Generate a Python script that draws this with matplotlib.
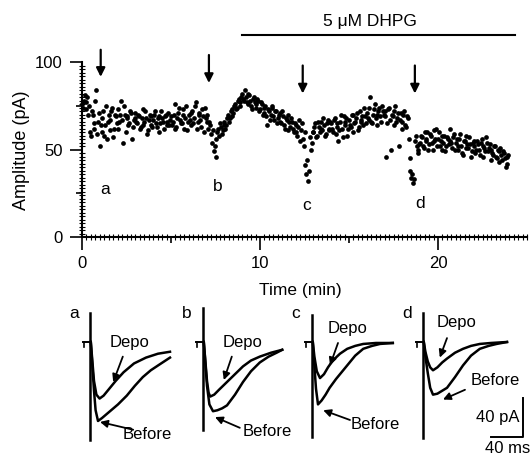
import numpy as np
import matplotlib
matplotlib.use("Agg")
import matplotlib.pyplot as plt

plt.rcParams['font.family'] = ['Liberation Sans', 'DejaVu Sans']

# ---------------- data ----------------
sample_interval_min = 0.1
amplitude_pA = [
    76, 78, 73, 80, 75, 58, 70, 62, 84, 66,
    52, 60, 72, 64, 56, 70, 67, 74, 62, 69,
    73, 66, 78, 54, 70, 68, 64, 72, 56, 67,
    71, 65, 69, 63, 73, 66, 68, 61, 70, 64,
    67, 72, 63, 69, 65, 68, 62, 70, 66, 64,
    69, 66, 76, 63, 71, 67, 65, 73, 68, 61,
    70, 64, 72, 68, 77, 66, 71, 63, 69, 74,
    66, 62, 64, 54, 49, 46, 60, 58, 63, 61,
    66, 64, 70, 68, 73, 71, 76, 74, 79, 77,
    82, 78, 80, 76, 81, 75, 79, 77, 74, 78,
    73, 76, 71, 75, 64, 72, 70, 74, 67, 72,
    68, 71, 65, 69, 62, 67, 70, 63, 66, 60,
    64, 58, 67, 61, 56, 41, 36, 32, 57, 54,
    60, 65, 58, 63, 66, 61, 64, 59, 67, 62,
    65, 60, 68, 63, 55, 66, 62, 69, 64, 58,
    67, 63, 70, 65, 68, 61, 72, 66, 64, 69,
    71, 67, 80, 65, 73, 68, 70, 74, 66, 72,
    69, 46, 73, 67, 70, 64, 75, 68, 52, 71,
    66, 72, 63, 68, 38, 34, 31, 55, 52, 50,
    54, 57, 51, 56, 60, 53, 58, 50, 55, 62,
    56, 52, 58, 54, 49, 57, 53, 55, 51, 59,
    54, 50, 56, 52, 47, 55, 58, 51, 53, 49,
    52, 48, 55, 50, 54, 46, 51, 57, 49, 53,
    50, 47, 52, 45, 49, 51, 44, 48, 40, 46,
]
# interleaved sweeps (offset by half a sample interval)
amplitude_pA_2 = [
    74, 81, 77, 70, 60, 72, 65, 78, 59, 71,
    64, 68, 58, 75, 66, 61, 72, 57, 70, 65,
    62, 70, 67, 75, 60, 69, 65, 71, 63, 68,
    66, 70, 62, 68, 64, 72, 59, 67, 69, 63,
    70, 65, 68, 60, 72, 66, 69, 64, 71, 67,
    64, 70, 62, 68, 74, 65, 70, 62, 75, 66,
    67, 71, 65, 75, 62, 70, 67, 73, 60, 68,
    70, 66, 59, 61, 52, 56, 62, 65, 59, 64,
    62, 68, 66, 72, 69, 75, 73, 78, 75, 80,
    79, 84, 77, 82, 78, 73, 80, 76, 79, 72,
    77, 70, 74, 69, 73, 67, 75, 69, 72, 65,
    70, 66, 72, 64, 68, 61, 66, 68, 62, 65,
    60, 63, 55, 65, 52, 60, 44, 38, 50, 60,
    63, 57, 66, 60, 62, 68, 58, 65, 61, 66,
    62, 67, 59, 65, 61, 70, 57, 66, 68, 62,
    64, 70, 60, 66, 71, 63, 67, 69, 74, 65,
    68, 74, 66, 70, 76, 64, 72, 69, 75, 70,
    72, 65, 74, 50, 69, 72, 66, 71, 67, 62,
    70, 64, 69, 56, 45, 36, 33, 58, 48, 53,
    58, 52, 60, 55, 50, 59, 54, 61, 56, 52,
    60, 55, 50, 58, 52, 56, 62, 54, 57, 50,
    56, 52, 59, 48, 55, 51, 53, 57, 46, 54,
    55, 50, 53, 47, 56, 52, 49, 54, 51, 44,
    48, 52, 46, 50, 43, 47, 49, 45, 42, 47,
]
time_min = np.arange(len(amplitude_pA)) * sample_interval_min
time_min_2 = time_min + sample_interval_min / 2

drug_label = "5 \u03bcM DHPG"
drug_start_min = 9.0
drug_end_min = 24.3

event_labels = ['a', 'b', 'c', 'd']
event_times_min = [1.05, 7.13, 12.4, 18.7]

x_ticks = [0, 5, 10, 15, 20]
x_ticklabels = ['0', '', '10', '', '20']
y_ticks = [0, 25, 50, 75, 100]
y_ticklabels = ['0', '', '50', '', '100']

# inset traces (ms, pA)
depo_t = [
    [1, 3, 5, 8, 12, 17, 24, 32, 42, 55, 70, 85, 100],
    [1, 3, 5, 7, 9, 14, 20, 30, 40, 50, 60, 71, 85, 99],
    [1, 3, 6, 10, 15, 20, 26, 35, 44, 54, 64, 80, 101],
    [1, 3, 6, 9, 12.5, 18, 24, 30, 40, 50, 60, 71, 85, 105],
]
depo_i = [
    [0, -20, -40, -54, -58, -55, -48, -40, -31, -22, -16, -12, -10],
    [0, -20, -40, -52, -56, -54, -49, -41, -33, -25, -19, -15, -11, -8],
    [0, -15, -30, -37, -33, -26, -19, -12, -7, -4, -2, -1, -1],
    [0, -10, -20, -26, -29, -26, -21, -17, -11, -7, -4, -2, -1, 0],
]
before_t = [
    [1, 3, 5, 7, 10, 15, 25, 35, 46, 56, 66, 76, 87, 100],
    [1, 3, 5, 8, 12.5, 18, 24, 30, 40, 50, 60, 71, 82, 92, 99],
    [1, 3, 5, 7.5, 12, 17, 22, 30, 37, 44, 54, 64, 75, 85, 101],
    [1, 3, 6, 9, 12.5, 18, 24, 30, 40, 50, 60, 71, 82, 92, 105],
]
before_i = [
    [0, -25, -50, -70, -81, -78, -71, -64, -55, -45, -36, -29, -23, -16],
    [0, -22, -45, -64, -71, -70, -68, -65, -54, -41, -30, -21, -15, -11, -8],
    [0, -25, -48, -64, -60, -54, -47, -38, -31, -24, -14, -7, -4, -2, -1],
    [0, -15, -32, -47, -54, -53, -50, -47, -36, -24, -14, -7, -4, -2, 0],
]
artifact_top = [30, 35, 28, 30]
artifact_bottom = [-100, -90, -97, -98]

# ---------------- figure ----------------
W, H = 532, 458
fig = plt.figure(figsize=(W / 100, H / 100), dpi=100)

def fx(px):
    return px / W

def fy(py):
    return 1 - py / H

ax = fig.add_axes([fx(82), fy(237), (527 - 82) / W, (237 - 62) / H])
for tt, aa in [(time_min, amplitude_pA), (time_min_2, amplitude_pA_2)]:
    ax.plot(tt, aa, 'o', color='black', markersize=3.4,
            markeredgewidth=0, clip_on=False)
ax.set_xlim(0, 25)
ax.set_ylim(0, 100)
for s in ['top', 'right']:
    ax.spines[s].set_visible(False)
for s in ['left', 'bottom']:
    ax.spines[s].set_linewidth(1.5)

ax.set_xticks(x_ticks)
ax.set_xticklabels(x_ticklabels)
ax.set_yticks(y_ticks)
ax.set_yticklabels(y_ticklabels)
ax.xaxis.set_minor_locator(matplotlib.ticker.MultipleLocator(0.25))
ax.yaxis.set_minor_locator(matplotlib.ticker.MultipleLocator(2))
ax.tick_params(which='major', direction='out', length=9, width=1.2,
               labelsize=12, pad=5)
ax.tick_params(which='minor', direction='inout', length=4, width=0.8)
for i, t in enumerate(ax.xaxis.get_major_ticks()):
    if x_ticklabels[i] == '':
        t.tick1line.set_markersize(4)
for i, t in enumerate(ax.yaxis.get_major_ticks()):
    if y_ticklabels[i] == '':
        t.tick1line.set_markersize(4)

fig.text(fx(300), fy(290), "Time (min)", ha='center', va='center', fontsize=12.5)
fig.text(fx(22), fy(150), "Amplitude (pA)", ha='center', va='center',
         rotation=90, fontsize=13)

# drug bar
ax.plot([drug_start_min, drug_end_min], [115.4, 115.4], color='black', lw=1.5,
        clip_on=False)
ax.text(16.2, 123, drug_label, ha='center', va='center', fontsize=12.5)

# arrows and letters
arrow_y = [(107, 91.5), (104, 88), (98, 82), (98, 82)]
letter_xy = [(1.3, 27), (7.6, 28.6), (12.6, 18), (19.0, 19.4)]
for lab, tx, (y0, y1), (lx, ly) in zip(event_labels, event_times_min, arrow_y, letter_xy):
    ax.annotate('', xy=(tx, y1), xytext=(tx, y0),
                arrowprops=dict(arrowstyle='-|>', lw=1.6, color='black',
                                mutation_scale=13, shrinkA=0, shrinkB=0),
                annotation_clip=False)
    ax.text(lx, ly, lab, ha='center', va='center', fontsize=12.5)

# ---------------- insets ----------------
art_px = [90, 203, 312, 423]
px_per_ms = 0.8
px_per_pA = 0.975
base_py = 342
top_py, bot_py = 305, 445
left_pad = 15
inset_w = 135

depo_text = [(50, -1), (50, 0), (44, 14), (42.5, 20)]
depo_arrow = [((41, -15), (29, -41)), ((36, -15), (26, -39)),
              ((32.5, -1), (22.5, -24)), ((30, 4), (21, -16))]
before_text = [(71, -95), (80, -92), (79, -85), (90, -39)]
before_arrow = [((54, -90), (12.5, -82)), ((46, -88), (15, -77)),
                ((47.5, -80), (14, -70)), ((52.5, -49), (25, -59))]

for k in range(4):
    iax = fig.add_axes([fx(art_px[k] - left_pad), fy(bot_py),
                        inset_w / W, (bot_py - top_py) / H])
    iax.set_xlim(-left_pad / px_per_ms, (inset_w - left_pad) / px_per_ms)
    iax.set_ylim((base_py - bot_py) / px_per_pA, (base_py - top_py) / px_per_pA)
    iax.axis('off')
    # stimulus artifact and baseline stub
    iax.plot([0, 0], [artifact_bottom[k], artifact_top[k]], color='black', lw=1.8,
             clip_on=False)
    iax.plot([-9, 0], [0, 0], color='black', lw=1.4)
    iax.plot([-7, -7], [0, -5], color='black', lw=1.2)
    iax.plot(depo_t[k], depo_i[k], color='black', lw=1.8, clip_on=False)
    iax.plot(before_t[k], before_i[k], color='black', lw=1.8, clip_on=False)
    iax.text(-20, 29, event_labels[k], ha='center', va='center', fontsize=12.5)
    iax.text(*depo_text[k], "Depo", ha='center', va='center', fontsize=12)
    iax.text(*before_text[k], "Before", ha='center', va='center', fontsize=12)
    for (s, e) in [depo_arrow[k], before_arrow[k]]:
        iax.annotate('', xy=e, xytext=s,
                     arrowprops=dict(arrowstyle='-|>', lw=1.3, color='black',
                                     mutation_scale=11, shrinkA=0, shrinkB=0),
                     annotation_clip=False)
    if k == 3:
        iax.plot([85, 125, 125], [-97, -97, -57], color='black', lw=1.4,
                 clip_on=False)
        iax.text(121, -77, "40 pA", ha='right', va='center', fontsize=12)
        iax.text(106, -109, "40 ms", ha='center', va='center', fontsize=12)

fig.savefig("out.png", dpi=100)
